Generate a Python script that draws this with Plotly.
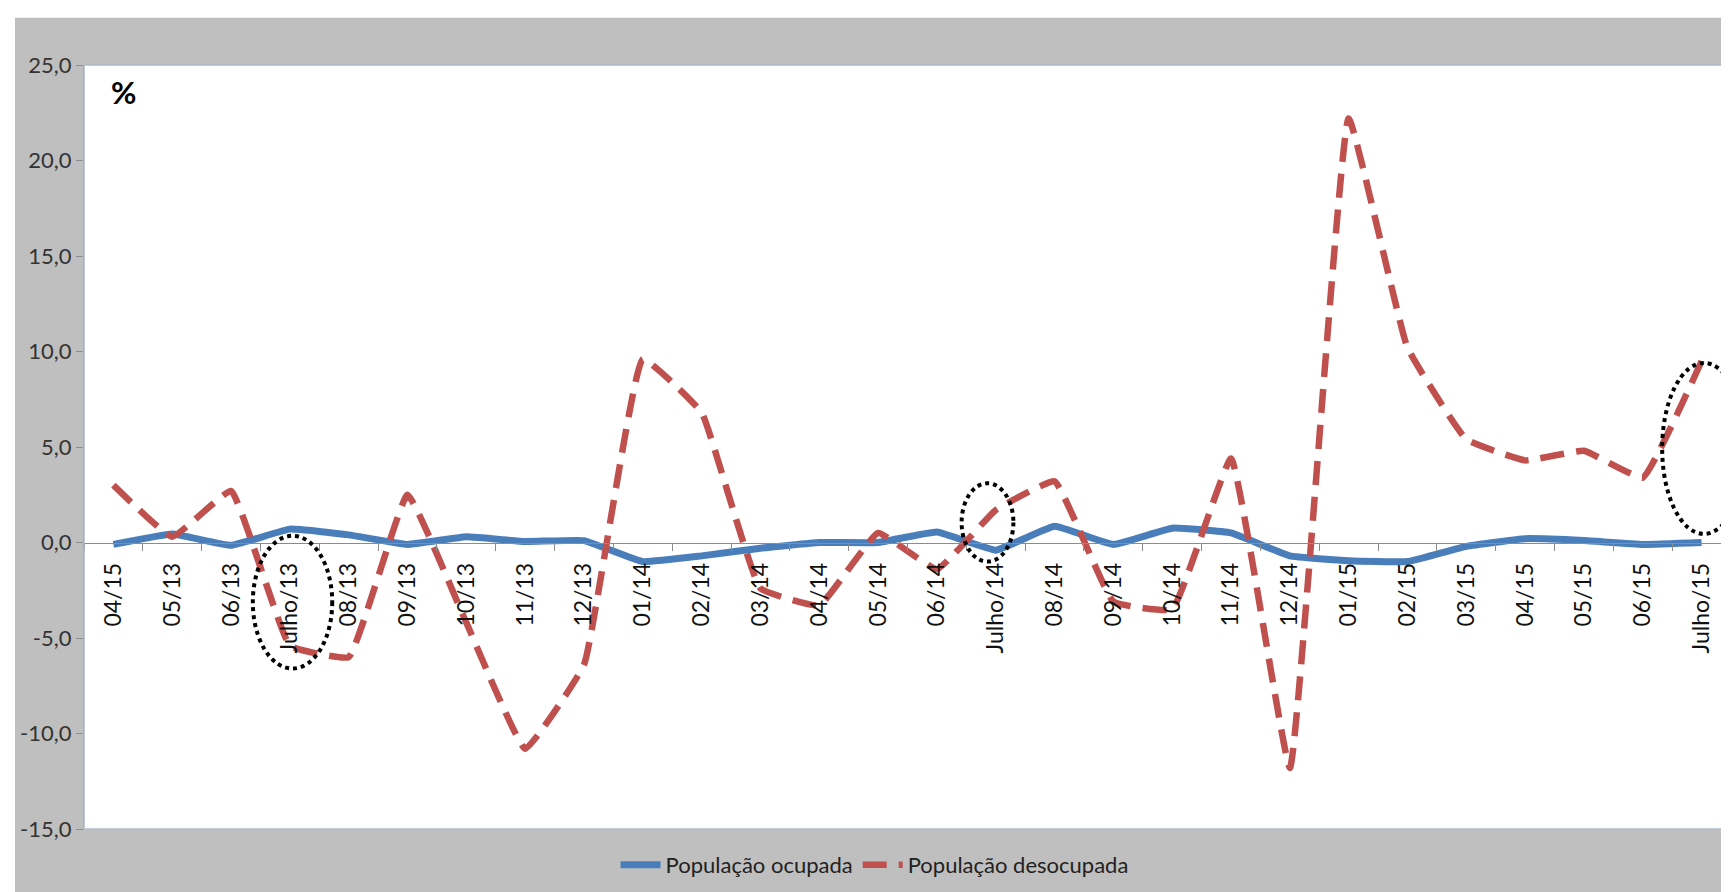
import plotly.graph_objects as go

# meses (o primeiro rótulo está assim no original)
meses = ["04/15", "05/13", "06/13", "Julho/13", "08/13", "09/13", "10/13", "11/13", "12/13",
         "01/14", "02/14", "03/14", "04/14", "05/14", "06/14", "Julho/14", "08/14", "09/14",
         "10/14", "11/14", "12/14", "01/15", "02/15", "03/15", "04/15", "05/15", "06/15", "Julho/15"]

ocupada = [-0.1, 0.45, -0.15, 0.7, 0.4, -0.1, 0.3, 0.05, 0.1, -1.0, -0.7, -0.3, 0.0, 0.0,
           0.55, -0.4, 0.85, -0.1, 0.75, 0.5, -0.7, -0.95, -1.0, -0.2, 0.2, 0.1, -0.1, 0.0]

desocupada = [3.0, 0.3, 2.7, -5.4, -6.0, 2.5, -4.2, -10.8, -6.4, 9.6, 6.8, -2.4, -3.3, 0.5,
              -1.4, 1.7, 3.2, -3.1, -3.5, 4.4, -11.8, 22.2, 10.2, 5.4, 4.3, 4.8, 3.4, 9.5]

y_ticks = [-15, -10, -5, 0, 5, 10, 15, 20, 25]

# destaques pontilhados (x0, x1, y0, y1) em coordenadas dos eixos
destaques = [(2.37, 3.72, -6.6, 0.35), (14.42, 15.3, -1.0, 3.1), (26.33, 27.75, 0.45, 9.4)]

x = list(range(len(meses)))
fonte = "Lato, 'Open Sans', sans-serif"

fig = go.Figure()
fig.add_trace(go.Scatter(
    x=x, y=ocupada, mode="lines", name="População ocupada",
    line=dict(color="#4A7EBB", width=7, shape="spline", smoothing=0.3),
    hoverinfo="skip"))
fig.add_trace(go.Scatter(
    x=x, y=desocupada, mode="lines", name="População desocupada",
    line=dict(color="#C0504D", width=6.5, dash="24px,12px", shape="spline", smoothing=0.3),
    hoverinfo="skip"))

shapes = []
for x0, x1, y0, y1 in destaques:
    shapes.append(dict(type="circle", xref="x", yref="y", x0=x0, x1=x1, y0=y0, y1=y1,
                       line=dict(color="black", width=4, dash="dot")))
# moldura da área de plotagem
shapes.append(dict(type="rect", xref="paper", yref="paper", x0=0, x1=1, y0=0, y1=1,
                   line=dict(color="#AEBBC8", width=1.5), layer="above"))
# faixas brancas fora do gráfico (topo e esquerda)
shapes.append(dict(type="rect", xref="paper", yref="paper", x0=-0.2, x1=1.2, y0=1.062, y1=1.3,
                   fillcolor="white", line=dict(width=0)))
shapes.append(dict(type="rect", xref="paper", yref="paper", x0=-0.2, x1=-0.0419, y0=-0.3, y1=1.3,
                   fillcolor="white", line=dict(width=0)))

fig.update_layout(
    width=1729, height=892,
    margin=dict(l=76, r=6, t=57, b=71),
    paper_bgcolor="#BFBFBF",
    plot_bgcolor="white",
    font=dict(family=fonte, color="#222222"),
    showlegend=True,
    legend=dict(orientation="h", x=0.48, xanchor="center", y=-0.047, yanchor="middle",
                font=dict(size=22, color="#222222"), bgcolor="rgba(0,0,0,0)",
                itemwidth=40),
    shapes=shapes,
    annotations=[dict(text="<b>%</b>", xref="paper", yref="paper", x=0.015, y=0.965,
                      xanchor="left", yanchor="middle", showarrow=False,
                      font=dict(size=31, color="black"))],
)

fig.update_xaxes(
    range=[-0.5, len(meses) - 0.5],
    tickmode="array", tickvals=x, ticktext=meses, tickangle=-90,
    ticks="", ticklabelstandoff=10,
    tickfont=dict(size=23, color="#111111"),
    minor=dict(tickmode="linear", tick0=0.5, dtick=1, ticks="outside", ticklen=7,
               tickcolor="#8C8C8C", showgrid=False),
    showline=True, linecolor="#8C8C8C", linewidth=1.2,
    showgrid=False, zeroline=False,
    anchor="free", position=0.375,
)
fig.update_yaxes(
    range=[-15, 25],
    tickmode="array", tickvals=y_ticks,
    ticktext=[f"{v:.1f}".replace(".", ",") for v in y_ticks],
    ticks="outside", ticklen=7, tickcolor="#8C8C8C",
    tickfont=dict(size=22, color="#333333"),
    showline=True, linecolor="#8C8C8C", linewidth=1.2,
    showgrid=False, zeroline=False,
)

fig.write_html("out.html")
